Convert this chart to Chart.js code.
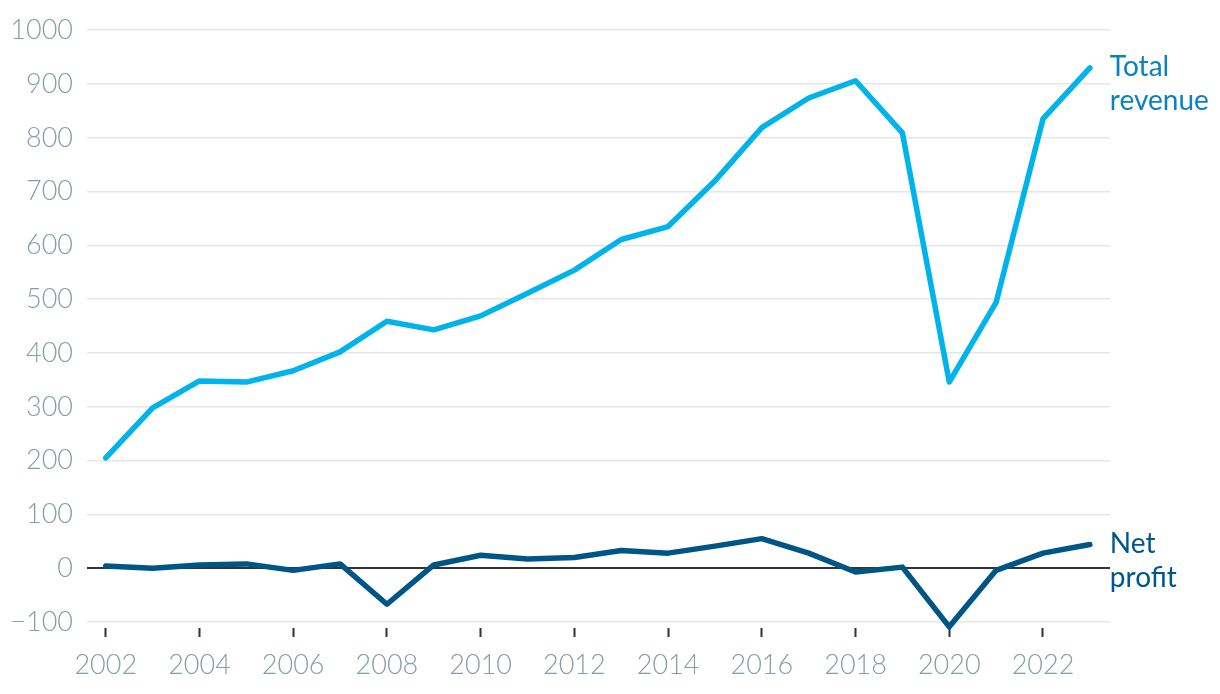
<!DOCTYPE html>
<html>
<head>
<meta charset="utf-8">
<script src="https://cdn.jsdelivr.net/npm/chart.js@4"></script>
<style>
  body { margin: 0; background: #fff; }
  canvas { display: block; }
</style>
</head>
<body>
<canvas id="revChart" width="1220" height="694"></canvas>
<script>
// values
var years = [2002, 2003, 2004, 2005, 2006, 2007, 2008, 2009, 2010, 2011, 2012,
             2013, 2014, 2015, 2016, 2017, 2018, 2019, 2020, 2021, 2022, 2023];
var totalRevenue = [205, 298, 348, 346, 367, 402, 459, 443, 469, 511, 554,
                    611, 635, 720, 819, 874, 906, 809, 346, 494, 835, 930];
var netProfit = [4, 0, 6, 8, -4, 8, -67, 6, 24, 17, 20,
                 33, 28, 41, 55, 28, -7, 2, -109, -4, 28, 44];
var xTickYears = [2002, 2004, 2006, 2008, 2010, 2012, 2014, 2016, 2018, 2020, 2022];
var yTicks = [-100, 0, 100, 200, 300, 400, 500, 600, 700, 800, 900, 1000];
var seriesLabels = [['Total', 'revenue'], ['Net', 'profit']];

var labelColors = ['#0a82bd', '#00578b'];

// writes the series names at the end of each line
var endLabels = {
    id: 'endLabels',
    afterDatasetsDraw: function (chart) {
        var ctx = chart.ctx;
        ctx.save();
        ctx.font = '400 28px Lato';
        ctx.textAlign = 'left';
        ctx.textBaseline = 'middle';
        chart.data.datasets.forEach(function (ds, i) {
            var pts = chart.getDatasetMeta(i).data;
            var last = pts[pts.length - 1];
            ctx.fillStyle = labelColors[i];
            seriesLabels[i].forEach(function (line, j) {
                ctx.fillText(line, last.x + 20, last.y - 1 + j * 34);
            });
        });
        ctx.restore();
    }
};

var ctx = document.getElementById('revChart');
var chart = new Chart(ctx, {
    type: 'line',
    data: {
        labels: years,
        datasets: [{
            label: 'Total revenue',
            data: years.map(function (y, i) { return { x: y, y: totalRevenue[i] }; }),
            borderColor: '#00b3ea',
            borderWidth: 5.5,
            borderCapStyle: 'round',
            borderJoinStyle: 'round',
            pointRadius: 0,
            tension: 0,
            clip: false
        }, {
            label: 'Net profit',
            data: years.map(function (y, i) { return { x: y, y: netProfit[i] }; }),
            borderColor: '#005587',
            borderWidth: 5.5,
            borderCapStyle: 'round',
            borderJoinStyle: 'round',
            pointRadius: 0,
            tension: 0,
            clip: false
        }]
    },
    options: {
        responsive: false,
        animation: false,
        layout: { padding: { left: 0, right: 110, top: 28, bottom: 0 } },
        plugins: {
            legend: { display: false },
            tooltip: { enabled: false }
        },
        scales: {
            x: {
                type: 'linear',
                min: 2001.6,
                max: 2023.43,
                afterBuildTicks: function (scale) {
                    scale.ticks = xTickYears.map(function (v) { return { value: v }; });
                },
                afterFit: function (scale) { scale.height = 72; },
                border: { display: false },
                grid: {
                    drawOnChartArea: false,
                    drawTicks: true,
                    tickLength: 15,
                    tickColor: '#333333',
                    tickWidth: 2,
                    tickBorderDash: [0, 6, 9, 40]
                },
                ticks: {
                    padding: 12,
                    color: '#8a9ca5',
                    font: { family: 'Lato', size: 27, weight: 300 },
                    maxRotation: 0,
                    callback: function (v) { return String(v); }
                }
            },
            y: {
                min: -100,
                max: 1000,
                afterBuildTicks: function (scale) {
                    scale.ticks = yTicks.map(function (v) { return { value: v }; });
                },
                afterFit: function (scale) { scale.width = 87; },
                border: { display: false },
                grid: {
                    drawTicks: false,
                    color: function (c) { return c.tick && c.tick.value === 0 ? '#333333' : '#e6e6e6'; },
                    lineWidth: function (c) { return c.tick && c.tick.value === 0 ? 2 : 1.5; }
                },
                ticks: {
                    padding: 14,
                    color: '#8a9ca5',
                    font: { family: 'Lato', size: 27, weight: 300 },
                    callback: function (v) { return v < 0 ? '\u2212' + Math.abs(v) : String(v); }
                }
            }
        }
    },
    plugins: [endLabels]
});
</script>
</body>
</html>
